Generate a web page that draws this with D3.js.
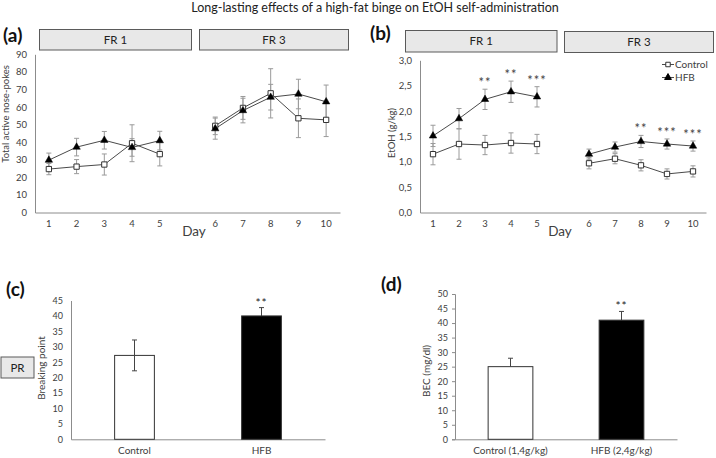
<!DOCTYPE html>
<html>
<head>
<meta charset="utf-8">
<script src="https://cdn.jsdelivr.net/npm/d3@7"></script>
<style>
  body { margin: 0; background: #fff; }
  svg { font-family: Lato, 'Open Sans', sans-serif; }
</style>
</head>
<body>
<svg id="chart" width="716" height="458"></svg>
<script>
// data
const days = [1, 2, 3, 4, 5, 6, 7, 8, 9, 10];
const slots = ['1', '2', '3', '4', '5', 'gap', '6', '7', '8', '9', '10'];

const pokesControl = [24.7, 26.1, 27.3, 39.4, 33.2, 49.3, 59.5, 67.8, 53.6, 52.7];
const pokesControlErr = [3.2, 4, 6, 10.5, 6.7, 5, 6.5, 14, 11, 9.5];
const pokesHfb = [29.8, 37.2, 41.1, 37, 40.9, 47.7, 58, 65.6, 67.4, 63];
const pokesHfbErr = [4, 5, 5, 5, 5.3, 6, 7, 7.3, 8.4, 9.5];

const etohControl = [1.15, 1.35, 1.33, 1.37, 1.35, 0.97, 1.06, 0.93, 0.76, 0.81];
const etohControlErr = [0.21, 0.3, 0.19, 0.2, 0.19, 0.11, 0.1, 0.11, 0.1, 0.11];
const etohHfb = [1.51, 1.85, 2.23, 2.38, 2.28, 1.15, 1.29, 1.4, 1.35, 1.31];
const etohHfbErr = [0.21, 0.2, 0.2, 0.21, 0.2, 0.1, 0.1, 0.12, 0.1, 0.1];
const etohStars = ['', '', '**', '**', '***', '', '', '**', '***', '***'];

const bpGroups = ['Control', 'HFB'];
const bpValues = [27.2, 40];
const bpErr = [5, 2.7];
const bpStars = ['', '**'];

const becGroups = ['Control (1,4g/kg)', 'HFB (2,4g/kg)'];
const becValues = [25, 41];
const becErr = [2.9, 3];
const becStars = ['', '**'];

const svg = d3.select('#chart');
const axisGrey = '#8c8c8c';
const textCol = '#404040';

// title
svg.append('text')
  .attr('x', 375).attr('y', 11.5)
  .attr('text-anchor', 'middle')
  .style('font-size', '12.5px')
  .style('fill', '#222')
  .text('Long-lasting effects of a high-fat binge on EtOH self-administration');

function panelLabel(x, y, txt) {
  svg.append('text')
    .attr('x', x).attr('y', y)
    .style('font-size', '19px')
    .style('font-weight', 'bold')
    .style('fill', '#111')
    .text(txt);
}

function box(x, y, w, h, txt) {
  const g = svg.append('g');
  g.append('rect')
    .attr('x', x).attr('y', y).attr('width', w).attr('height', h)
    .attr('fill', '#e8e8e8').attr('stroke', '#5a5a5a').attr('stroke-width', 1);
  g.append('text')
    .attr('x', x + w / 2).attr('y', y + h / 2 + 4)
    .attr('text-anchor', 'middle')
    .style('font-size', '11.5px')
    .style('fill', '#222')
    .text(txt);
}

function styleAxis(g, fontSize) {
  g.select('.domain').attr('stroke', axisGrey);
  g.selectAll('.tick line').attr('stroke', axisGrey);
  g.selectAll('.tick text').style('fill', textCol).style('font-size', fontSize || '9.5px')
    .style('font-family', 'Lato, sans-serif');
}

function linePanel(opts) {
  const x = d3.scaleBand().domain(slots).range(opts.xRange);
  const y = d3.scaleLinear().domain(opts.yDomain).range(opts.yRange);
  const cx = d => x(String(d)) + x.bandwidth() / 2;

  const xAxis = svg.append('g')
    .attr('transform', 'translate(0,' + opts.yRange[0] + ')')
    .call(d3.axisBottom(x).tickValues(days.map(String)).tickSize(0).tickPadding(8));
  styleAxis(xAxis);
  const yAxis = svg.append('g')
    .attr('transform', 'translate(' + opts.xRange[0] + ',0)')
    .call(d3.axisLeft(y).ticks(opts.ticks).tickSize(0).tickPadding(8).tickFormat(opts.fmt));
  styleAxis(yAxis);

  svg.append('text')
    .attr('transform', 'translate(' + opts.yLabelX + ',' + opts.yLabelY + ') rotate(-90)')
    .attr('text-anchor', 'middle')
    .style('font-size', '9.5px').style('fill', textCol)
    .text(opts.yLabel);
  svg.append('text')
    .attr('x', opts.dayX).attr('y', 236)
    .attr('text-anchor', 'middle')
    .style('font-size', '13.5px').style('fill', textCol)
    .text('Day');

  const series = [
    { vals: opts.control, err: opts.controlErr, marker: 'square' },
    { vals: opts.hfb, err: opts.hfbErr, marker: 'triangle' },
  ];
  const line = d3.line().x(d => cx(d.day)).y(d => y(d.v));

  series.forEach(s => {
    const pts = days.map((d, i) => ({ day: d, v: s.vals[i], e: s.err[i] }));
    [pts.slice(0, 5), pts.slice(5)].forEach(seg => {
      svg.append('path').datum(seg)
        .attr('d', line)
        .attr('fill', 'none').attr('stroke', '#4a4a4a').attr('stroke-width', 1);
    });
    const eb = svg.append('g').attr('stroke', '#9a9a9a').attr('stroke-width', 1);
    pts.forEach(p => {
      const xx = cx(p.day);
      eb.append('line').attr('x1', xx).attr('x2', xx).attr('y1', y(p.v - p.e)).attr('y2', y(p.v + p.e));
      eb.append('line').attr('x1', xx - 2.5).attr('x2', xx + 2.5).attr('y1', y(p.v - p.e)).attr('y2', y(p.v - p.e));
      eb.append('line').attr('x1', xx - 2.5).attr('x2', xx + 2.5).attr('y1', y(p.v + p.e)).attr('y2', y(p.v + p.e));
    });
    s.pts = pts;
  });
  series.forEach(s => {
    const sym = s.marker === 'square'
      ? d3.symbol().type(d3.symbolSquare).size(28)
      : d3.symbol().type(d3.symbolTriangle).size(24);
    svg.append('g').selectAll('path').data(s.pts).join('path')
      .attr('transform', d => 'translate(' + cx(d.day) + ',' + y(d.v) + ')')
      .attr('d', sym)
      .attr('fill', s.marker === 'square' ? '#fff' : '#000')
      .attr('stroke', s.marker === 'square' ? '#333' : '#000')
      .attr('stroke-width', s.marker === 'square' ? 1 : 0.5);
  });

  if (opts.stars) {
    svg.append('g').selectAll('text').data(days).join('text')
      .attr('x', d => cx(d))
      .attr('y', (d, i) => y(opts.hfb[i] + opts.hfbErr[i]) - 2)
      .attr('text-anchor', 'middle')
      .style('font-size', '13px').style('letter-spacing', '1px').style('fill', '#444')
      .text((d, i) => opts.stars[i]);
  }
  return { x, y, cx };
}

// (a)
panelLabel(3, 42, '(a)');
box(39.5, 29.5, 152, 20.5, 'FR 1');
box(199.5, 29.5, 149, 20.5, 'FR 3');
linePanel({
  xRange: [35, 340], yDomain: [0, 90], yRange: [212.5, 54.3], ticks: 9,
  fmt: d3.format('d'),
  yLabel: 'Total active nose-pokes', yLabelX: 9, yLabelY: 114, dayX: 194,
  control: pokesControl, controlErr: pokesControlErr,
  hfb: pokesHfb, hfbErr: pokesHfbErr,
});

// (b)
panelLabel(370, 40, '(b)');
box(405.5, 30.5, 151.5, 21.5, 'FR 1');
box(564.5, 31.5, 149, 21, 'FR 3');
linePanel({
  xRange: [420, 706], yDomain: [0, 3], yRange: [212.5, 60.3], ticks: 6,
  fmt: d => d3.format('.1f')(d).replace('.', ','),
  yLabel: 'EtOH (g/kg)', yLabelX: 395, yLabelY: 133, dayX: 560,
  control: etohControl, controlErr: etohControlErr,
  hfb: etohHfb, hfbErr: etohHfbErr, stars: etohStars,
});

// legend for (b)
const legendItems = [
  { name: 'Control', marker: 'square', y: 64.5 },
  { name: 'HFB', marker: 'triangle', y: 77.5 },
];
legendItems.forEach(it => {
  svg.append('line').attr('x1', 662).attr('x2', 674).attr('y1', it.y).attr('y2', it.y)
    .attr('stroke', '#4a4a4a').attr('stroke-width', 1);
  svg.append('path')
    .attr('transform', 'translate(668,' + it.y + ')')
    .attr('d', d3.symbol().type(it.marker === 'square' ? d3.symbolSquare : d3.symbolTriangle).size(20))
    .attr('fill', it.marker === 'square' ? '#fff' : '#000')
    .attr('stroke', it.marker === 'square' ? '#333' : '#000');
  svg.append('text').attr('x', 675).attr('y', it.y + 3.5)
    .style('font-size', '10px').style('fill', textCol).text(it.name);
});

function barPanel(opts) {
  const x = d3.scaleBand().domain(opts.groups).range(opts.xRange)
    .paddingInner(opts.pad).paddingOuter(opts.pad / 2);
  const y = d3.scaleLinear().domain(opts.yDomain).range(opts.yRange);

  const xAxis = svg.append('g')
    .attr('transform', 'translate(0,' + opts.yRange[0] + ')')
    .call(d3.axisBottom(x).tickSize(0).tickPadding(8));
  styleAxis(xAxis, '10px');
  const yAxis = svg.append('g')
    .attr('transform', 'translate(' + opts.xRange[0] + ',0)')
    .call(d3.axisLeft(y).ticks(opts.ticks).tickSize(opts.tickSize).tickPadding(opts.tickSize ? 4 : 8));
  styleAxis(yAxis, '9px');

  svg.append('text')
    .attr('transform', 'translate(' + opts.yLabelX + ',' + opts.yLabelY + ') rotate(-90)')
    .attr('text-anchor', 'middle')
    .style('font-size', '10px').style('fill', textCol)
    .text(opts.yLabel);

  // error bars
  const eb = svg.append('g').attr('stroke', '#444').attr('stroke-width', 1);
  opts.groups.forEach((gname, i) => {
    const xx = x(gname) + x.bandwidth() / 2;
    const lo = opts.upperOnly ? opts.values[i] : opts.values[i] - opts.err[i];
    const hi = opts.values[i] + opts.err[i];
    eb.append('line').attr('x1', xx).attr('x2', xx).attr('y1', y(lo)).attr('y2', y(hi));
    eb.append('line').attr('x1', xx - 2.5).attr('x2', xx + 2.5).attr('y1', y(hi)).attr('y2', y(hi));
    if (!opts.upperOnly) {
      eb.append('line').attr('x1', xx - 2.5).attr('x2', xx + 2.5).attr('y1', y(lo)).attr('y2', y(lo));
    }
  });

  svg.append('g').selectAll('rect').data(opts.groups).join('rect')
    .attr('x', d => x(d))
    .attr('y', (d, i) => y(opts.values[i]))
    .attr('width', x.bandwidth())
    .attr('height', (d, i) => opts.yRange[0] - y(opts.values[i]))
    .attr('fill', (d, i) => (i === 0 ? '#fff' : '#000'))
    .attr('stroke', '#333').attr('stroke-width', 1);

  // redraw lower part of control error bar over the white bar
  if (!opts.upperOnly) {
    const xx = x(opts.groups[0]) + x.bandwidth() / 2;
    const lo = opts.values[0] - opts.err[0];
    svg.append('line').attr('x1', xx).attr('x2', xx).attr('y1', y(lo)).attr('y2', y(opts.values[0]))
      .attr('stroke', '#444');
    svg.append('line').attr('x1', xx - 2.5).attr('x2', xx + 2.5).attr('y1', y(lo)).attr('y2', y(lo))
      .attr('stroke', '#444');
  }

  svg.append('g').selectAll('text').data(opts.groups).join('text')
    .attr('x', d => x(d) + x.bandwidth() / 2)
    .attr('y', (d, i) => y(opts.values[i] + opts.err[i]) - 1)
    .attr('text-anchor', 'middle')
    .style('font-size', '12px').style('letter-spacing', '1px').style('fill', '#222')
    .text((d, i) => opts.stars[i]);
}

// (c)
panelLabel(6, 296, '(c)');
box(1, 357, 33, 21, 'PR');
barPanel({
  groups: bpGroups, values: bpValues, err: bpErr, stars: bpStars,
  xRange: [71, 325], pad: 0.687, yDomain: [0, 45], yRange: [439.3, 300.5],
  ticks: 9, tickSize: 0,
  yLabel: 'Breaking point', yLabelX: 45, yLabelY: 368,
});

// (d)
panelLabel(381, 291, '(d)');
barPanel({
  groups: becGroups, values: becValues, err: becErr, stars: becStars, upperOnly: true,
  xRange: [455, 677], pad: 0.597, yDomain: [0, 50], yRange: [439.3, 294],
  ticks: 10, tickSize: 3,
  yLabel: 'BEC (mg/dl)', yLabelX: 430, yLabelY: 371,
});
</script>
</body>
</html>
